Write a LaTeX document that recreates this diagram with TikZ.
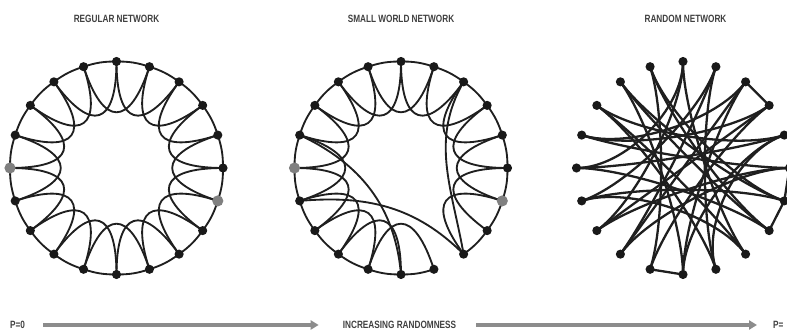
\documentclass[tikz,border=0pt]{standalone}
\usepackage{fontspec}
\newfontfamily\capsfont[FakeStretch=0.78]{Liberation Sans}
\usetikzlibrary{arrows.meta, calc}

\begin{document}
\begin{tikzpicture}[x=0.35mm, y=0.35mm]
\tikzset{
  dot/.style={circle,fill=black!90,inner sep=0pt,minimum size=3.2mm},
  gdot/.style={circle,fill=black!50,inner sep=0pt,minimum size=3.9mm},
  ed/.style={line width=0.65mm,draw=black!88},
  edr/.style={line width=0.8mm,draw=black!88},
  ttl/.style={font=\capsfont\bfseries\fontsize{10.5}{12}\selectfont,text=black!75,inner sep=0pt},
  gar/.style={-{Triangle[length=2.8mm,width=3.2mm]},line width=1.1mm,draw=black!45}
}
\useasboundingbox (0,0) rectangle (787,331);
% ---- ring positions
\coordinate (rc) at (116.5,163);
\coordinate (sc) at (401,163);
\coordinate (nc) at (683,163);
\foreach \k in {0,...,19} {
  \coordinate (r\k) at ($(rc)+({90+18*\k}:106.5)$);
  \coordinate (s\k) at ($(sc)+({90+18*\k}:106.5)$);
  \coordinate (n\k) at ($(nc)+({90+18*\k}:106.5)$);
}
% ---- titles
\node[ttl] (treg) at (116.5,312) {REGULAR NETWORK};
\node[ttl] (tsw)  at (401,312)   {SMALL WORLD NETWORK};
\node[ttl] (trnd) at (685.5,312) {RANDOM NETWORK};
% ---- regular network
\foreach \k in {0,...,19} {
  \pgfmathtruncatemacro{\j}{mod(\k+1,20)}
  \pgfmathtruncatemacro{\i}{mod(\k+2,20)}
  \draw[ed] (r\k) to[bend right=9] (r\j);
  \draw[ed] (r\k) .. controls ($(rc)!0.4!(r\k)$) and ($(rc)!0.4!(r\i)$) .. (r\i);
}
\foreach \k in {0,...,4,6,7,...,13,15,16,...,19} \node[dot] (rd\k) at (r\k) {};
\node[gdot] (rd5) at (r5) {};
\node[gdot] (rd14) at (r14) {};
% ---- small world network
\foreach \k in {0,...,10,12,13,...,19} {
  \pgfmathtruncatemacro{\j}{mod(\k+1,20)}
  \draw[ed] (s\k) to[bend right=9] (s\j);
}
\foreach \k in {0,...,9,12,13,...,19} {
  \pgfmathtruncatemacro{\i}{mod(\k+2,20)}
  \draw[ed] (s\k) .. controls ($(sc)!0.4!(s\k)$) and ($(sc)!0.4!(s\i)$) .. (s\i);
}
\draw[ed] (s4) to[out=-25,in=95] (s10);
\draw[ed] (s6) to[out=5,in=135] (s12);
\draw[ed] (s18) to[out=-120,in=100] (s12);
\foreach \k in {0,...,4,6,7,...,13,15,16,...,19} \node[dot] (sd\k) at (s\k) {};
\node[gdot] (sd5) at (s5) {};
\node[gdot] (sd14) at (s14) {};
% ---- random network
\foreach \a/\b in {0/7,0/12,1/9,1/13,2/14,2/10,3/16,3/11,4/15,4/18,5/13,5/16,6/14,6/19,
    7/17,8/19,8/15,9/17,10/18,11/19,12/3,12/6,13/2,15/7,16/10,17/4,18/8,0/5,11/16,1/14}
  \draw[edr] (n\a) .. controls ($(nc)!0.55!(n\a)$) and ($(nc)!0.55!(n\b)$) .. (n\b);
\foreach \a/\b in {17/18,9/10,13/14,14/15} \draw[edr] (n\a) -- (n\b);
\foreach \k in {0,...,19} \node[dot] (nd\k) at (n\k) {};
% ---- randomness scale
\node[ttl] (p0) at (17.5,6) {P=0};
\node[ttl] (inc) at (399.5,6) {INCREASING RANDOMNESS};
\node[ttl,anchor=west] (p1) at (773,6) {P=};
\draw[gar,shorten <=6.3mm,shorten >=8.4mm] (p0) -- (inc);
\draw[gar,shorten <=7mm,shorten >=5.6mm] (inc) -- (p1);
\end{tikzpicture}
\end{document}
